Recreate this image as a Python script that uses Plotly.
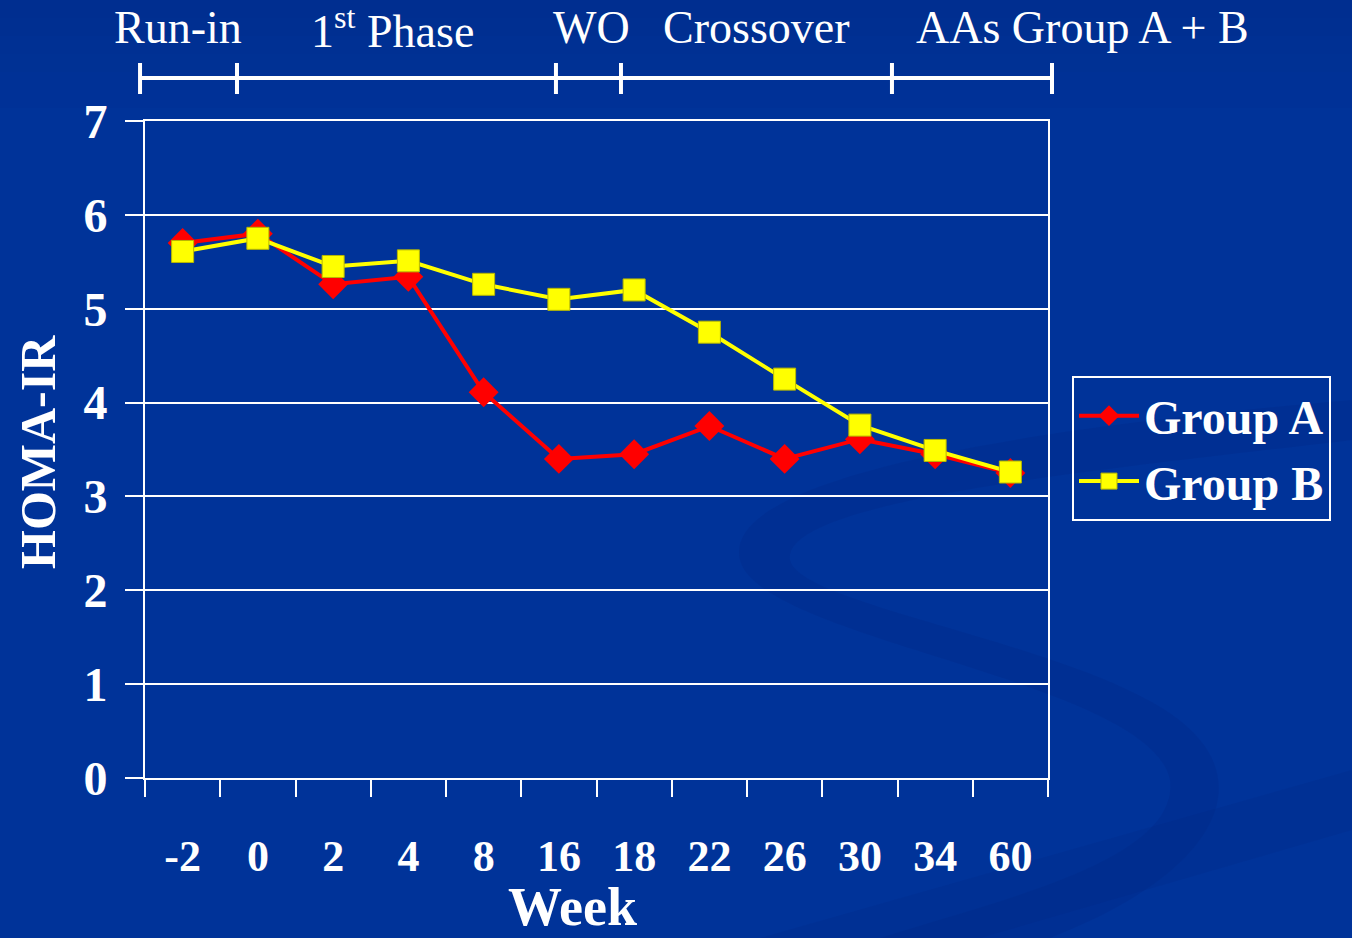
import plotly.graph_objects as go

# HOMA-IR by study week for the two groups
weeks = ["-2", "0", "2", "4", "8", "16", "18", "22", "26", "30", "34", "60"]
group_a = [5.70, 5.80, 5.26, 5.34, 4.11, 3.40, 3.45, 3.75, 3.40, 3.61, 3.45, 3.25]
group_b = [5.61, 5.75, 5.45, 5.51, 5.26, 5.10, 5.20, 4.75, 4.25, 3.76, 3.49, 3.26]

# study phases shown above the plot (edges and label centres in paper units)
phase_labels = ["Run-in", "1<sup>st</sup> Phase", "WO", "Crossover", "AAs Group A + B"]
phase_label_x = [0.0365, 0.2746, 0.495, 0.6777, 1.0377]
phase_edges = [-0.0055, 0.1019, 0.4551, 0.5271, 0.8272, 1.0044]

BG = "#003399"
SERIF = "Liberation Serif, Times New Roman, serif"

W, H = 1352, 938
L, R, T, B = 145, 304, 121, 160


def px(x):
    return (x - L) / (W - L - R)


def py(y):
    return (H - B - y) / (H - T - B)


def pt(x, y):
    return f"{px(x):.4f},{py(y):.4f}"


fig = go.Figure()

fig.add_trace(go.Scatter(
    x=weeks, y=group_a, name="Group A", mode="lines+markers",
    line=dict(color="#ff0000", width=4),
    marker=dict(symbol="diamond", size=23, color="#ff0000",
                line=dict(color="#ff0000", width=0)),
))
fig.add_trace(go.Scatter(
    x=weeks, y=group_b, name="Group B", mode="lines+markers",
    line=dict(color="#ffff00", width=4),
    marker=dict(symbol="square", size=22, color="#ffff00",
                line=dict(color="#b8b800", width=1)),
))

shapes = []

# soft darkening toward the top of the background
for i in range(6):
    y0 = py(i * 18)
    y1 = py((i + 1) * 18)
    shapes.append(dict(type="rect", xref="paper", yref="paper",
                       x0=px(0), x1=px(W), y0=y1, y1=y0,
                       fillcolor="#001f70", opacity=0.22 - i * 0.035,
                       line=dict(width=0), layer="below"))

# background swirl ribbon
swirl = (
    f"M {pt(1352, 400)} "
    f"C {pt(1000, 430)} {pt(720, 480)} {pt(740, 560)} "
    f"C {pt(760, 640)} {pt(1150, 680)} {pt(1170, 780)} "
    f"C {pt(1180, 860)} {pt(1000, 900)} {pt(880, 938)} "
    f"L {pt(1050, 938)} "
    f"C {pt(1200, 880)} {pt(1250, 800)} {pt(1200, 740)} "
    f"C {pt(1130, 650)} {pt(800, 610)} {pt(790, 560)} "
    f"C {pt(780, 500)} {pt(1100, 470)} {pt(1352, 440)} Z"
)
shapes.append(dict(type="path", xref="paper", yref="paper", path=swirl,
                   fillcolor="#00247a", opacity=0.18, line=dict(width=0),
                   layer="below"))
# faint diagonal band in the lower right
band = f"M {pt(760, 938)} L {pt(1352, 770)} L {pt(1352, 830)} L {pt(980, 938)} Z"
shapes.append(dict(type="path", xref="paper", yref="paper", path=band,
                   fillcolor="#00247a", opacity=0.16, line=dict(width=0),
                   layer="below"))

# phase bar
bar_y = py(78)
shapes.append(dict(type="line", xref="paper", yref="paper",
                   x0=phase_edges[0], x1=phase_edges[-1], y0=bar_y, y1=bar_y,
                   line=dict(color="white", width=4)))
for e in phase_edges:
    shapes.append(dict(type="line", xref="paper", yref="paper",
                       x0=e, x1=e, y0=py(94), y1=py(63),
                       line=dict(color="white", width=4)))

annotations = []
for lab, x in zip(phase_labels, phase_label_x):
    annotations.append(dict(text=lab, x=x, y=py(28), xref="paper", yref="paper",
                            xanchor="center", yanchor="middle", showarrow=False,
                            font=dict(family=SERIF, size=46, color="white")))

annotations.append(dict(text="<b>Week</b>", x=px(572), y=py(907),
                        xref="paper", yref="paper", xanchor="center",
                        yanchor="middle", showarrow=False,
                        font=dict(family=SERIF, size=54, color="white")))
annotations.append(dict(text="<b>HOMA-IR</b>", x=px(38), y=py(452),
                        xref="paper", yref="paper", xanchor="center",
                        yanchor="middle", showarrow=False, textangle=-90,
                        font=dict(family=SERIF, size=50, color="white")))

fig.update_layout(
    width=W, height=H,
    margin=dict(l=L, r=R, t=T, b=B, autoexpand=False),
    paper_bgcolor=BG, plot_bgcolor="rgba(0,0,0,0)",
    font=dict(family=SERIF, color="white"),
    showlegend=True,
    legend=dict(
        x=px(1072), y=py(376), xanchor="left", yanchor="top",
        bgcolor="rgba(0,0,0,0)", bordercolor="white", borderwidth=2,
        font=dict(family=SERIF, size=48, color="white", weight="bold"),
        itemwidth=60,
    ),
    shapes=shapes,
    annotations=annotations,
)

fig.update_xaxes(
    type="category", range=[-0.5, len(weeks) - 0.5],
    showgrid=False, zeroline=False,
    showline=True, mirror=True, linecolor="white", linewidth=2,
    ticks="outside", tickson="boundaries", ticklen=17, tickwidth=2,
    tickcolor="white", ticklabelstandoff=38,
    tickfont=dict(family=SERIF, size=44, color="white", weight="bold"),
)
fig.update_yaxes(
    range=[0, 7], dtick=1, tick0=0, showgrid=True, gridcolor="white",
    gridwidth=2, zeroline=False, showline=True, mirror=True,
    linecolor="white", linewidth=2, ticks="outside", ticklen=18,
    tickwidth=2, tickcolor="white", ticklabelstandoff=8,
    tickfont=dict(family=SERIF, size=48, color="white", weight="bold"),
)

fig.write_html("out.html")
